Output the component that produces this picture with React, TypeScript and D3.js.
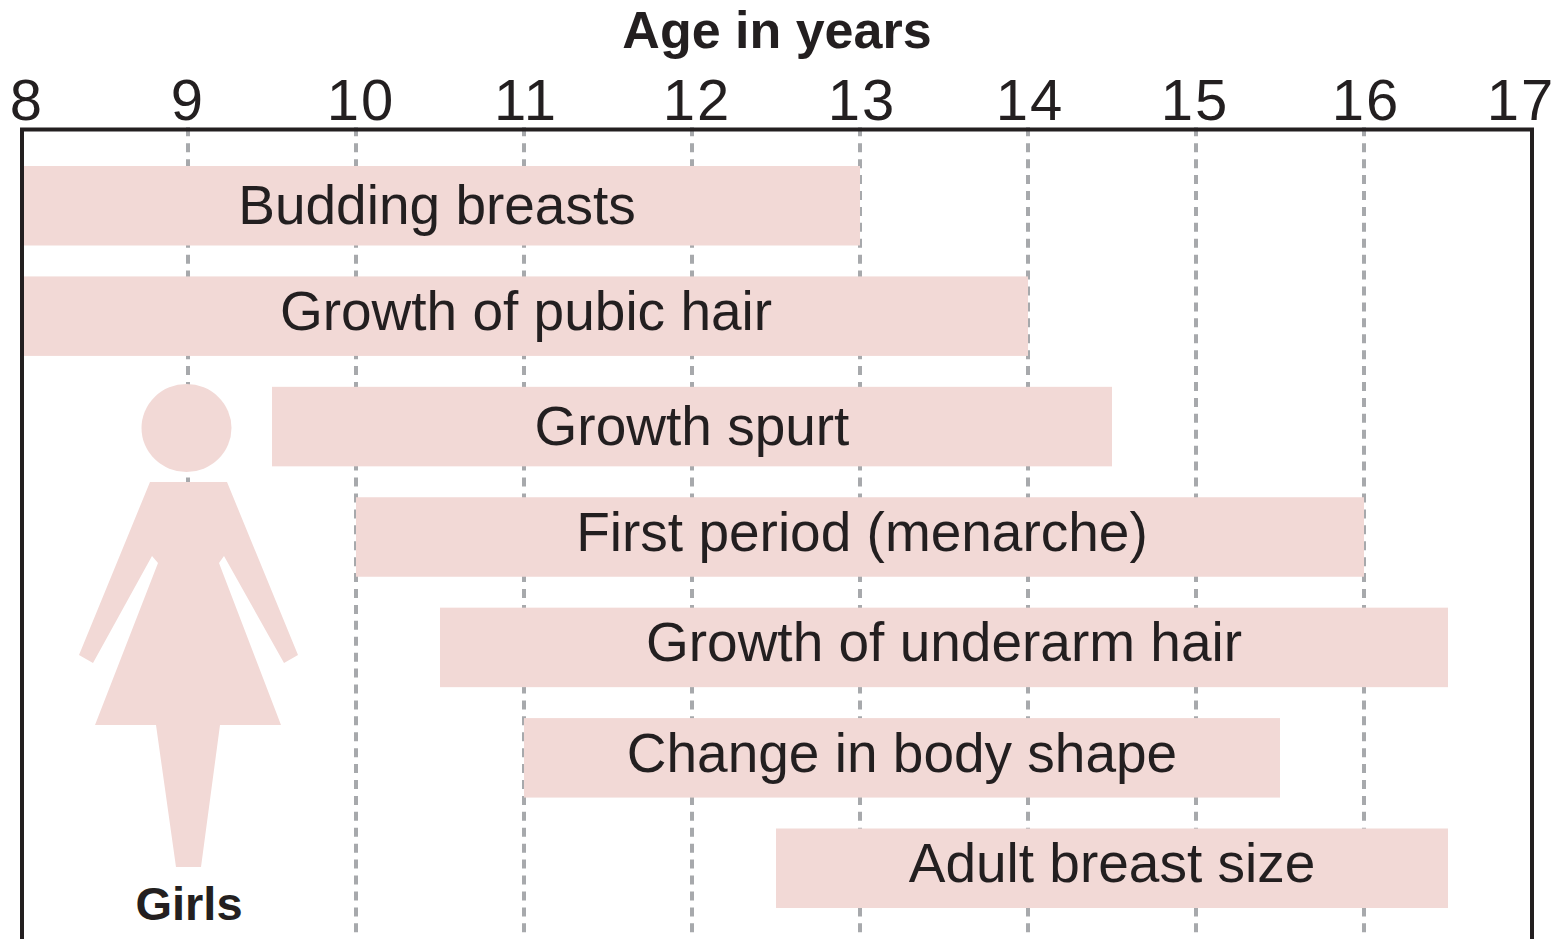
import React, { useEffect, useRef } from "react";
import * as d3 from "d3";

const ages = [8, 9, 10, 11, 12, 13, 14, 15, 16, 17];
const stages = [
  "Budding breasts",
  "Growth of pubic hair",
  "Growth spurt",
  "First period (menarche)",
  "Growth of underarm hair",
  "Change in body shape",
  "Adult breast size",
];
const startAge = [8, 8, 9.5, 10, 10.5, 11, 12.5];
const endAge = [13, 14, 14.5, 16, 16.5, 15.5, 16.5];

// girl pictogram outline, in its own units
const figureOutline: [number, number][] = [
  [71, 0], [148, 0], [219, 173], [205, 181], [145, 74], [140, 81], [202, 243],
  [141, 243], [122, 385], [97, 385], [77, 243], [16, 243], [79, 81], [73, 74],
  [14, 181], [0, 173],
];

const ink = "#231f20";
const pink = "#f2d9d6";
const fontFamily = "'Liberation Sans', Arial, sans-serif";

// hand nudges so labels sit where the original typesetter put them
const tickNudge = [7, 0, 5, 2, 5, 2, 2, -1, 2, -11];
const labelDx = [-3, 2, 0, 2, 0, 0, 0];
const labelDy = [18, 14, 18, 14, 14, 14, 14];

const App = () => {
  const ref = useRef<SVGSVGElement>(null);

  useEffect(() => {
    const svg = d3.select(ref.current);
    svg.selectAll("*").remove();

    const x = d3.scaleLinear().domain([8, 17]).range([20, 1532]);
    const y = d3
      .scaleBand<string>()
      .domain(stages)
      .range([166, 908])
      .paddingInner(0.28);
    const frameLeft = x(8) + 2;

    // Grid
    svg
      .append("g")
      .selectAll("line")
      .data(ages.slice(1, -1))
      .join("line")
      .attr("x1", (d) => x(d))
      .attr("x2", (d) => x(d))
      .attr("y1", 127.3)
      .attr("y2", (d) => (d === 9 ? 486 : 933))
      .attr("stroke", "#a7a9ac")
      .attr("stroke-width", 4)
      .attr("stroke-dasharray", "9 6.92");

    // Frame, open at the bottom of the picture
    svg
      .append("path")
      .attr("d", `M${frameLeft},945V129.5H${x(17)}V945`)
      .attr("fill", "none")
      .attr("stroke", ink)
      .attr("stroke-width", 4);

    // Bars
    svg
      .append("g")
      .selectAll("rect")
      .data(stages)
      .join("rect")
      .attr("x", (_, i) => Math.max(x(startAge[i]), frameLeft + 2))
      .attr("y", (d) => y(d)!)
      .attr("width", (_, i) => x(endAge[i]) - Math.max(x(startAge[i]), frameLeft + 2))
      .attr("height", y.bandwidth())
      .attr("fill", pink);

    svg
      .append("g")
      .selectAll("text")
      .data(stages)
      .join("text")
      .attr("x", (_, i) => (x(startAge[i]) + x(endAge[i])) / 2 + labelDx[i])
      .attr("y", (d, i) => y(d)! + y.bandwidth() / 2 + labelDy[i])
      .attr("text-anchor", "middle")
      .attr("font-size", 55)
      .attr("fill", ink)
      .text((d) => d);

    // Axis labels
    svg
      .append("g")
      .selectAll("text")
      .data(ages)
      .join("text")
      .attr("x", (d, i) => x(d) + tickNudge[i])
      .attr("y", 120)
      .attr("text-anchor", "middle")
      .attr("font-size", 58)
      .attr("letter-spacing", 2)
      .attr("fill", ink)
      .text((d) => d);

    svg
      .append("text")
      .attr("x", 777)
      .attr("y", 48)
      .attr("text-anchor", "middle")
      .attr("font-size", 52)
      .attr("font-weight", 700)
      .attr("fill", ink)
      .text("Age in years");

    // Girl figure
    const fig = svg.append("g");
    const fx = d3.scaleLinear().domain([0, 219]).range([79, 298]);
    const fy = d3.scaleLinear().domain([0, 385]).range([482, 867]);
    const outline = d3
      .line<[number, number]>()
      .x((d) => fx(d[0]))
      .y((d) => fy(d[1]))
      .curve(d3.curveLinearClosed);
    fig
      .append("ellipse")
      .attr("cx", 186.5)
      .attr("cy", 428)
      .attr("rx", 45)
      .attr("ry", 44)
      .attr("fill", pink);
    fig.append("path").attr("d", outline(figureOutline)).attr("fill", pink);
    fig
      .append("text")
      .attr("x", 189)
      .attr("y", 920)
      .attr("text-anchor", "middle")
      .attr("font-size", 47)
      .attr("font-weight", 700)
      .attr("fill", ink)
      .text("Girls");
  }, []);

  return (
    <svg
      ref={ref}
      width={1565}
      height={939}
      style={{ position: "absolute", left: 0, top: 0, fontFamily }}
    />
  );
};

export default App;
